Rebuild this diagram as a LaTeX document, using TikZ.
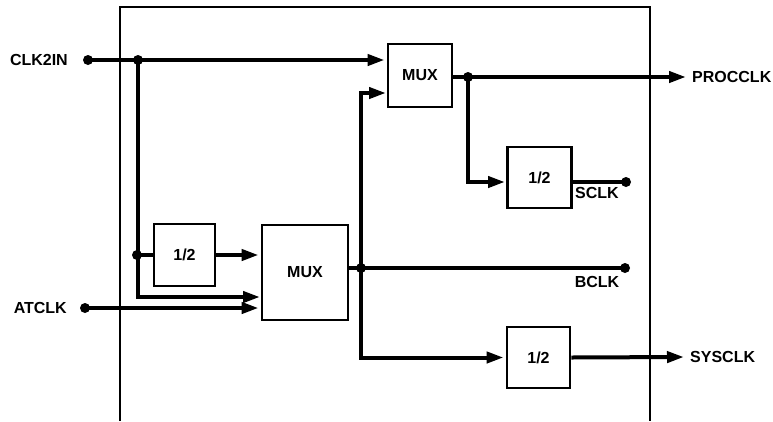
\documentclass[tikz,border=0pt]{standalone}
\usepackage{fontspec}
\setmainfont{Liberation Sans}
\usetikzlibrary{arrows.meta}
\begin{document}
\begin{tikzpicture}[x=1pt,y=-1pt,
  sig/.style={line width=4pt},
  arr/.style={-{Triangle[length=17pt,width=11pt]}},
  inarr/.style={arr,shorten >=2pt},
  blk/.style={draw,line width=2.8pt,minimum width=#1,inner sep=0pt},
  frame/.style={line width=1.8pt},
  lbl/.style={font=\fontsize{16}{16}\selectfont\bfseries,inner sep=0pt},
  jdot/.style={circle,fill,inner sep=0pt,minimum size=10pt}]
\useasboundingbox (0,0) rectangle (773,421);
% frame
\draw[frame] (120,421) -- (120,7) -- (650,7) -- (650,421);
% blocks
\node[blk=64pt,minimum height=63pt,lbl] (mux1) at (420,75.5) {MUX};
\node[blk=86pt,minimum height=95pt,lbl] (mux2) at (305,272.5) {MUX};
\node[blk=61pt,minimum height=62pt,lbl] (halfA) at (184.5,255) {1/2};
\node[blk=64pt,minimum height=61pt,lbl] (halfS) at (539.5,177.5) {1/2};
\node[blk=63pt,minimum height=61pt,lbl] (halfY) at (538.5,357.5) {1/2};
% dots and junctions
\node[jdot] (clkdot) at (88,60) {};
\node[jdot] (atdot) at (85,308) {};
\node[jdot] (j1) at (138,60) {};
\node[jdot] (j2) at (137,255) {};
\node[jdot] (j3) at (361,268) {};
\node[jdot] (j4) at (468,77) {};
\node[jdot] (sclkdot) at (626,182) {};
\node[jdot] (bclkdot) at (625,268) {};
\coordinate (m1in2) at (388,93);
\coordinate (m2in2) at (262,297);
\coordinate (procend) at (686,77);
\coordinate (sysend) at (684,357);
\coordinate (sclkin) at (507,182);
% labels
\node[lbl,anchor=east] (lclk) at (68,60) {CLK2IN};
\node[lbl,anchor=east] (lat) at (67,308) {ATCLK};
\node[lbl,anchor=west] (lproc) at (692,77) {PROCCLK};
\node[lbl,anchor=west] (lsys) at (690,357) {SYSCLK};
\node[lbl] (lsclk) at (597,193) {SCLK};
\node[lbl] (lbclk) at (597,282) {BCLK};
% connectors
\draw[sig,inarr] (clkdot.center) -- (clkdot -| mux1.west);
\draw[sig,inarr] (j1.center) |- (m2in2);
\draw[sig] (j2.center) -- (halfA.west);
\draw[sig,inarr] (halfA.east) -- (halfA -| mux2.west);
\draw[sig,inarr] (atdot.center) -- (atdot -| mux2.west);
\draw[sig] (mux2.east |- j3) -- (bclkdot.center);
\draw[sig,inarr] (j3.center) |- (m1in2);
\draw[sig,inarr] (j3.center) |- (halfY.west);
\draw[sig,arr] (halfY.east) -- (sysend);
\draw[sig,arr] (mux1.east |- j4) -- (procend);
\draw[sig,inarr] (j4.center) |- (sclkin);
\draw[sig] (halfS.east |- sclkin) -- (sclkdot.center);
\end{tikzpicture}
\end{document}
